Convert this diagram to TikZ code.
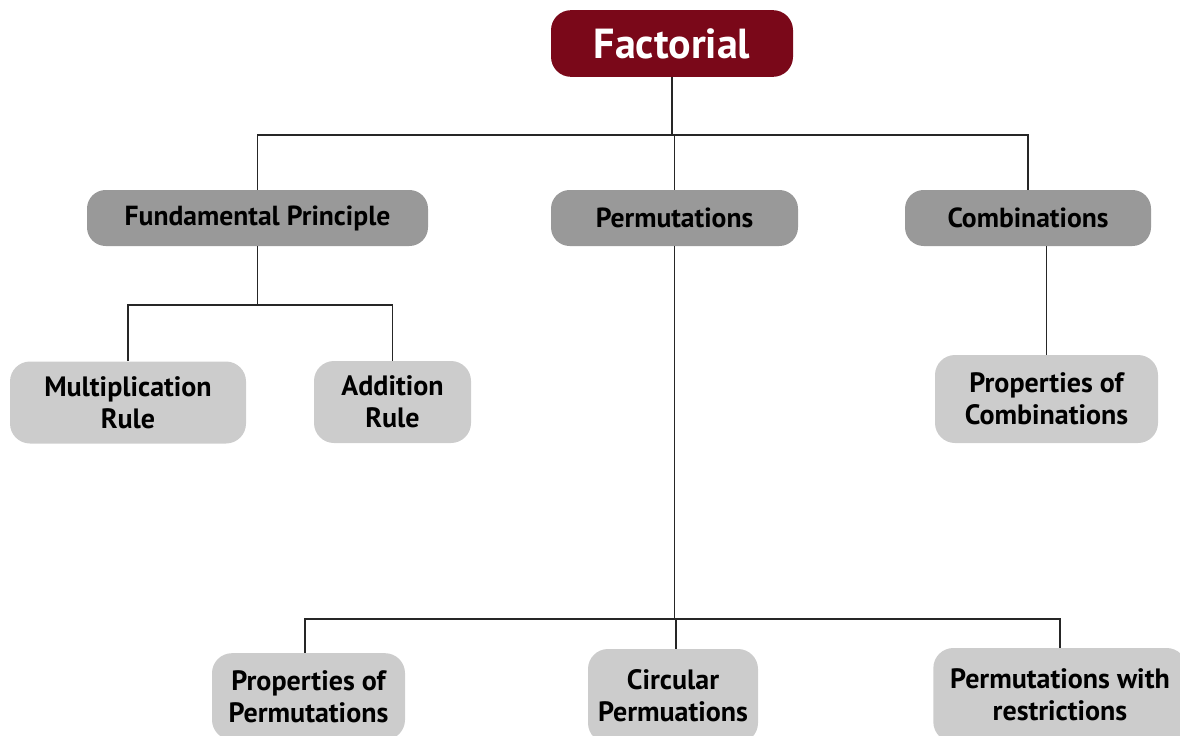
\documentclass[tikz,border=0pt]{standalone}
\usepackage{fontspec}
\setmainfont{PT Sans}
\usepackage{tikz}
\usetikzlibrary{positioning}
\definecolor{rootred}{HTML}{7A0819}
\definecolor{midgray}{HTML}{999999}
\definecolor{lightgray}{HTML}{CCCCCC}
\tikzstyle{root}=[rectangle,rounded corners=15pt,fill=rootred,text=white,font=\bfseries\fontsize{31.5}{36}\selectfont,inner sep=0pt]
\tikzstyle{branch}=[rectangle,rounded corners=14pt,fill=midgray,text=black,font=\bfseries\fontsize{20.7}{24}\selectfont,inner sep=0pt,minimum height=42pt]
\tikzstyle{leaf}=[rectangle,rounded corners=15pt,fill=lightgray,text=black,font=\bfseries\fontsize{21}{24}\selectfont,inner sep=0pt,align=center]
\tikzstyle{link}=[draw=black!85,line width=1.1pt]
\tikzset{every picture/.style={
    x=0.75pt,y=-0.75pt
  }
}
\begin{document}
\begin{tikzpicture}
          \useasboundingbox (0,0) rectangle (1180,735);
          \clip (0,0) rectangle (1180,735);
          \node[root, minimum width=181.5pt, minimum height=50pt] at (672,43.5) (fact) {Factorial};
          \node[branch, minimum width=255.75pt] at (257.5,218) (fp) {Fundamental Principle};
          \node[branch, minimum width=185.25pt] at (674.5,218) (perm) {Permutations};
          \node[branch, minimum width=184.5pt] at (1028,218) (comb) {Combinations};
          \node[leaf, minimum width=177pt, minimum height=61.5pt] at (128,402.5) (mult) {Multiplication\\Rule};
          \node[leaf, minimum width=117.75pt, minimum height=61.5pt] at (392.5,402) (add) {Addition\\Rule};
          \node[leaf, minimum width=167.25pt, minimum height=66pt] at (1046.5,399) (pcomb) {Properties of\\Combinations};
          \node[leaf, minimum width=144.75pt, minimum height=65pt] at (308.5,696.5) (pperm) {Properties of\\Permutations};
          \node[leaf, minimum width=127.5pt, minimum height=70.5pt] at (673,696) (circ) {Circular\\Permuations};
          \node[leaf, minimum width=190pt, minimum height=70.5pt] at (1060,695) (prest) {Permutations with\\restrictions};
          \coordinate (top) at (675,135);
          \coordinate (fpj) at (257,305);
          \coordinate (pj) at (676,619);
          \draw[link] (fact.south) -- (fact.south |- top);
          \draw[link] (fp.north) |- (top) -| (comb.north);
          \draw[link] (perm.north) -- (perm.north |- top);
          \draw[link] (fp.south) -- (fp.south |- fpj);
          \draw[link] (mult.north) |- (fpj) -| (add.north);
          \draw[link] (pcomb.north) -- (pcomb.north |- comb.south);
          \draw[link] (perm.south) -- (perm.south |- pj);
          \draw[link] ([xshift=-2.6pt]pperm.north) |- (pj) -| (prest.north);
          \draw[link] ([xshift=2.2pt]circ.north) -- ([xshift=2.2pt]circ.north |- pj);
        \end{tikzpicture}
\end{document}
